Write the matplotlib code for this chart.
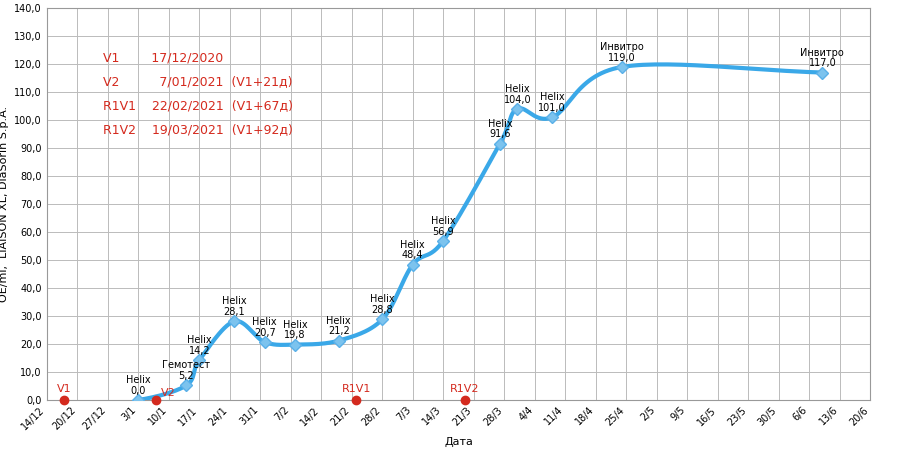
import numpy as np
import pandas as pd
from matplotlib import pyplot as plt
import matplotlib.dates as mdates

dates = ["2021-01-03", "2021-01-14", "2021-01-17", "2021-01-25", "2021-02-01",
         "2021-02-08", "2021-02-18", "2021-02-28", "2021-03-07", "2021-03-14",
         "2021-03-27", "2021-03-31", "2021-04-08", "2021-04-24", "2021-06-09"]
values = [0.0, 5.2, 14.2, 28.1, 20.7, 19.8, 21.2, 28.8, 48.4, 56.9,
          91.6, 104.0, 101.0, 119.0, 117.0]
labs = ["Helix", "Гемотест", "Helix", "Helix", "Helix", "Helix", "Helix", "Helix",
        "Helix", "Helix", "Helix", "Helix", "Helix", "Инвитро", "Инвитро"]

visit_dates = ["2020-12-17", "2021-01-07", "2021-02-22", "2021-03-19"]
visit_names = ["V1", "V2", "R1V1", "R1V2"]

legend_lines = ["V1        17/12/2020",
                "V2          7/01/2021  (V1+21д)",
                "R1V1    22/02/2021  (V1+67д)",
                "R1V2    19/03/2021  (V1+92д)"]

tick_dates = pd.date_range("2020-12-13", "2021-06-20", freq="7D")
tick_labels = [f"{d.day}/{d.month}" for d in tick_dates]
tick_labels[0] = "14/12"


def catmull_rom(x, y, n=30):
    x = np.asarray(x, float)
    y = np.asarray(y, float)
    px = np.concatenate([[2 * x[0] - x[1]], x, [2 * x[-1] - x[-2]]])
    py = np.concatenate([[y[0]], y, [2 * y[-1] - y[-2]]])
    xs, ys = [], []
    for i in range(1, len(px) - 2):
        t = np.linspace(0, 1, n)
        for p, out in ((px, xs), (py, ys)):
            p0, p1, p2, p3 = p[i - 1], p[i], p[i + 1], p[i + 2]
            out.append(0.5 * (2 * p1 + (-p0 + p2) * t
                              + (2 * p0 - 5 * p1 + 4 * p2 - p3) * t ** 2
                              + (-p0 + 3 * p1 - 3 * p2 + p3) * t ** 3))
    return np.concatenate(xs), np.concatenate(ys)


fig, ax = plt.subplots(figsize=(9, 4.54), dpi=100)
fig.subplots_adjust(left=0.052, right=0.967, top=0.982, bottom=0.119)

xnum = mdates.date2num(pd.to_datetime(dates))
sx, sy = catmull_rom(xnum, values)
ax.plot(sx, sy, color="#3aa8e8", lw=3, zorder=3)
ax.plot(xnum, values, "D", color="#7cc3ee", ms=6, mec="#5ab0e8", zorder=4)
for x, v, l in zip(xnum, values, labs):
    ax.text(x, v + 1.5, f"{l}\n{v:.1f}".replace(".", ","), ha="center",
            va="bottom", fontsize=7, linespacing=1.1, zorder=5)

vnum = mdates.date2num(pd.to_datetime(visit_dates))
ax.plot(vnum, [0] * len(vnum), "o", color="#d42a1e", ms=6, zorder=5, clip_on=False)
for x, n in zip(vnum, visit_names):
    if n == "V2":
        ax.text(x + 1.2, 1.5, n, color="#d42a1e", ha="left", fontsize=8)
    else:
        ax.text(x, 3, n, color="#d42a1e", ha="center", fontsize=8)

for i, s in enumerate(legend_lines):
    ax.text(mdates.date2num(pd.Timestamp("2020-12-26")), 121 - i * 8.5, s,
            color="#d42a1e", fontsize=9)

ax.set_xlim(mdates.date2num(tick_dates[0]), mdates.date2num(tick_dates[-1]))
ax.set_ylim(0, 140)
ax.set_xticks(mdates.date2num(tick_dates))
ax.set_xticklabels(tick_labels, rotation=45, ha="right", fontsize=7)
ax.set_yticks(np.arange(0, 141, 10))
ax.set_yticklabels([f"{v:.1f}".replace(".", ",") for v in np.arange(0, 141, 10)],
                   fontsize=7)
ax.grid(color="#bbbbbb", lw=0.7)
ax.tick_params(length=0)
for s in ax.spines.values():
    s.set_color("#999999")
ax.set_xlabel("Дата", fontsize=8)
ax.set_ylabel("OE/ml,  LIAISON XL, DiaSorin S.p.A.", fontsize=8)

plt.savefig("out.png")
